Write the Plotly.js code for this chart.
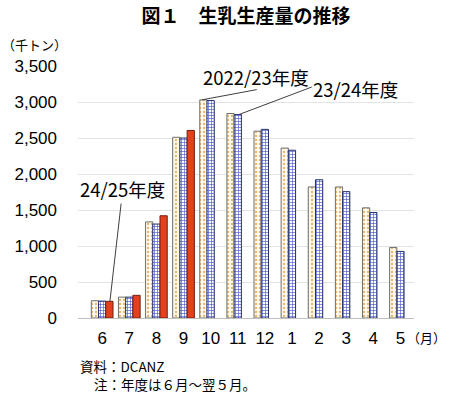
<!DOCTYPE html>
<html>
<head>
<meta charset="utf-8">
<script src="https://cdn.plot.ly/plotly-3.0.1.min.js"></script>
<style>html,body{margin:0;padding:0;background:#fff;}#chart{width:450px;height:398px;}</style>
</head>
<body>
<div id="chart"></div>
<script>
const months = ['6','7','8','9','10','11','12','1','2','3','4','5'];
const fy2022 = [240, 290, 1335, 2510, 3030, 2840, 2595, 2360, 1820, 1820, 1530, 980];
const fy2023 = [235, 290, 1305, 2500, 3020, 2825, 2620, 2330, 1920, 1755, 1465, 925];
const fy2024 = [232, 315, 1420, 2605, null, null, null, null, null, null, null, null];
const seriesNames = ['2022/23年度', '23/24年度', '24/25年度'];
const yTicks = [0, 500, 1000, 1500, 2000, 2500, 3000, 3500];

const jp = '"Noto Sans CJK JP", sans-serif';
const num = '"Liberation Sans", Arial, sans-serif';

const traces = [
  {type:'bar', x: months, y: fy2022, name: seriesNames[0],
   marker:{color:'#FFF9EC', line:{color:'#6F6F6F', width:1},
     pattern:{shape:'.', bgcolor:'#FFF9EC', fgcolor:'#E6B46E', size:4, solidity:0.25}}},
  {type:'bar', x: months, y: fy2023, name: seriesNames[1],
   marker:{color:'#FFFFFF', line:{color:'#26306E', width:1},
     pattern:{shape:'+', bgcolor:'#FFFFFF', fgcolor:'#4F5FCB', size:3, solidity:0.4}}},
  {type:'bar', x: months, y: fy2024, name: seriesNames[2],
   marker:{color:'#E4401E', line:{color:'#6E2010', width:1}}}
];

const layout = {
  width:450, height:398,
  margin:{l:78, r:36, t:66, b:80},
  paper_bgcolor:'#fff', plot_bgcolor:'#fff',
  showlegend:false,
  barmode:'group', bargap:0.2, bargroupgap:0,
  title:{text:'図１　生乳生産量の推移', x:0.5, xanchor:'center', xref:'paper',
    y:1-16/398, yref:'container', yanchor:'middle',
    font:{family:jp, size:19, color:'#000', weight:'bold'}},
  xaxis:{type:'category', categoryorder:'array', categoryarray: months,
    showgrid:false, zeroline:false, showline:true, linecolor:'#BFBFBF', linewidth:1,
    ticks:'', tickfont:{family:num, size:17, color:'#000'}, ticklabelstandoff:5, fixedrange:true},
  yaxis:{range:[0,3500], tickvals: yTicks, tickformat:',', showgrid:true, gridcolor:'#E3E3E3', gridwidth:1,
    zeroline:false, showline:false, ticks:'', tickfont:{family:num, size:17, color:'#000'},
    ticklabelstandoff:20, fixedrange:true},
  annotations:[
    {text:'（千トン）', xref:'paper', yref:'paper', x:-78/336, y:1+22/252, xanchor:'left', yanchor:'middle',
      showarrow:false, font:{family:jp, size:13, color:'#000'}},
    {text:'（月）', xref:'paper', yref:'paper', x:(448-78)/336, y:-19/252, xanchor:'right', yanchor:'middle',
      showarrow:false, font:{family:jp, size:13, color:'#000'}},
    {text:'資料：DCANZ', xref:'paper', yref:'paper', x:0, y:-48/252, xanchor:'left', yanchor:'middle',
      showarrow:false, font:{family:jp, size:13.5, color:'#000'}},
    {text:'注：年度は６月～翌５月。', xref:'paper', yref:'paper', x:14/336, y:-66/252, xanchor:'left', yanchor:'middle',
      showarrow:false, font:{family:jp, size:13.5, color:'#000'}},
    {text: seriesNames[0], xref:'x', yref:'y', x:5.68, y:3343, showarrow:false,
      font:{family:jp, size:18.5, color:'#000'}},
    {text: seriesNames[1], xref:'x', yref:'y', x:9.36, y:3177, showarrow:false,
      font:{family:jp, size:18.5, color:'#000'}},
    {text: seriesNames[2], xref:'x', yref:'y', x:0.75, y:1788, showarrow:false,
      font:{family:jp, size:18.5, color:'#000'}}
  ],
  shapes:[
    {type:'line', xref:'x', yref:'y', x0:5.70, y0:3172, x1:3.68, y1:3030, line:{color:'#404040', width:1}},
    {type:'line', xref:'x', yref:'y', x0:7.73, y0:3208, x1:5.04, y1:2825, line:{color:'#404040', width:1}},
    {type:'line', xref:'x', yref:'y', x0:0.70, y0:1590, x1:0.286, y1:232, line:{color:'#404040', width:1}}
  ]
};

Plotly.newPlot('chart', traces, layout, {displayModeBar:false, staticPlot:true});
</script>
</body>
</html>
